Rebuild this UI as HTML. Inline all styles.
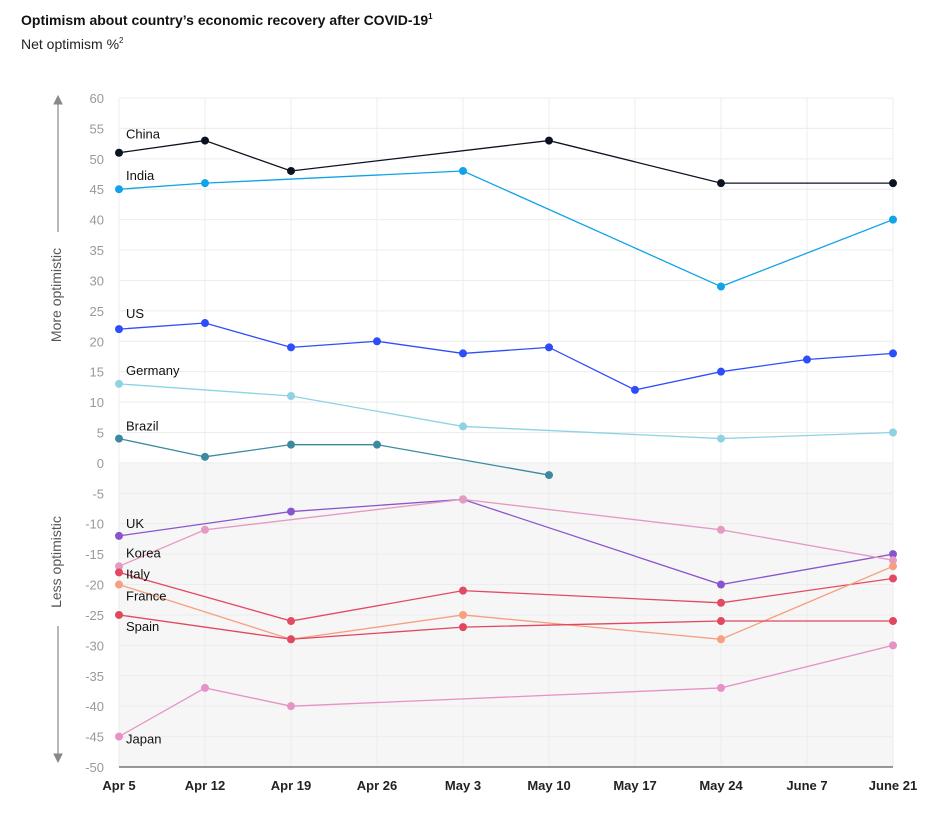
<!DOCTYPE html>
<html><head><meta charset="utf-8"><style>
body{margin:0;background:#fff;width:928px;height:816px;overflow:hidden;font-family:"Liberation Sans",sans-serif}
</style></head><body>
<svg width="928" height="816" xmlns="http://www.w3.org/2000/svg">
<text x="21" y="25" font-size="14" font-weight="bold" fill="#111">Optimism about country’s economic recovery after COVID-19<tspan font-size="8" dy="-6">1</tspan></text>
<text x="21" y="49" font-size="14" fill="#222">Net optimism %<tspan font-size="8" dy="-6">2</tspan></text>
<g id="grid"></g><g id="lines"></g><g id="labels"></g>
<g stroke="#888" fill="#888">
<line x1="58" y1="102" x2="58" y2="232" stroke-width="1.2"/><polygon points="54,104 62,104 58,96"/>
<line x1="58" y1="626" x2="58" y2="756" stroke-width="1.2"/><polygon points="54,754 62,754 58,762"/>
</g>
<text transform="translate(61,295) rotate(-90)" text-anchor="middle" font-size="14" fill="#555">More optimistic</text>
<text transform="translate(61,562) rotate(-90)" text-anchor="middle" font-size="14" fill="#555">Less optimistic</text>
</svg>
<script>
const categories=["Apr 5","Apr 12","Apr 19","Apr 26","May 3","May 10","May 17","May 24","June 7","June 21"];
const yTicks=[60,55,50,45,40,35,30,25,20,15,10,5,0,-5,-10,-15,-20,-25,-30,-35,-40,-45,-50];
const N=null;
const china=[51,53,48,N,N,53,N,46,N,46];
const india=[45,46,N,N,48,N,N,29,N,40];
const us=[22,23,19,20,18,19,12,15,17,18];
const germany=[13,N,11,N,6,N,N,4,N,5];
const brazil=[4,1,3,3,N,-2,N,N,N,N];
const uk=[-12,N,-8,N,-6,N,N,-20,N,-15];
const korea=[-17,-11,N,N,-6,N,N,-11,N,-16];
const italy=[-18,N,-26,N,-21,N,N,-23,N,-19];
const france=[-20,N,-29,N,-25,N,N,-29,N,-17];
const spain=[-25,N,-29,N,-27,N,N,-26,N,-26];
const japan=[-45,-37,-40,N,N,N,N,-37,N,-30];
const seriesNames=["China","India","US","Germany","Brazil","UK","Korea","Italy","France","Spain","Japan"];
const seriesVals=[china,india,us,germany,brazil,uk,korea,italy,france,spain,japan];
const colors=["#0b1320","#10a3e8","#2d4dfa","#8ed3e3","#3a8aa0","#8a55cc","#e59ac4","#e24a64","#f6a07e","#e0485f","#e593c6"];
const labelDy=[-14,-9,-11,-9,-8,-8,-9,6,16,16,7];
const NS="http://www.w3.org/2000/svg";
const x=i=>119+i*86, y=v=>98+(60-v)*(669/110);
function mk(t,a,p){const e=document.createElementNS(NS,t);for(const k in a)e.setAttribute(k,a[k]);p.appendChild(e);return e;}
const G=document.getElementById('grid'),L=document.getElementById('lines'),T=document.getElementById('labels');
const bg=mk('rect',{x:119,y:y(0),width:x(9)-119,height:y(-50)-y(0),fill:'#f6f6f6'},G);


yTicks.forEach(v=>{
 const l=mk('line',{x1:119,x2:x(9),y1:y(v),y2:y(v),stroke:'#ececec'},G);
 
 
 const t=mk('text',{x:104,y:y(v)+5,'text-anchor':'end','font-size':13,fill:'#999'},G);t.textContent=v;
 
 
});
categories.forEach((c,i)=>{
 const l=mk('line',{x1:x(i),x2:x(i),y1:y(60),y2:y(-50),stroke:'#ececec'},G);
 
 
 const t=mk('text',{x:x(i),y:790,'text-anchor':'middle','font-size':13,'font-weight':'bold',fill:'#222'},G);t.textContent=c;
 
 
});
const ax=mk('line',{x1:119,x2:x(9),y1:y(-50),y2:y(-50),stroke:'#333'},G);


seriesVals.forEach((vals,s)=>{
 const pts=[];vals.forEach((v,i)=>{if(v!==null)pts.push([x(i),y(v)]);});
 const p=mk('polyline',{points:pts.map(q=>q.join(',')).join(' '),fill:'none',stroke:colors[s],'stroke-width':1.3},L);
 
 
 pts.forEach(q=>{const c=mk('circle',{cx:q[0],cy:q[1],r:4,fill:colors[s]},L);
  
  });
 const t=mk('text',{x:126,y:y(vals[0])+labelDy[s],'font-size':13,fill:'#111'},T);t.textContent=seriesNames[s];
 
 
});
</script>
</body></html>
